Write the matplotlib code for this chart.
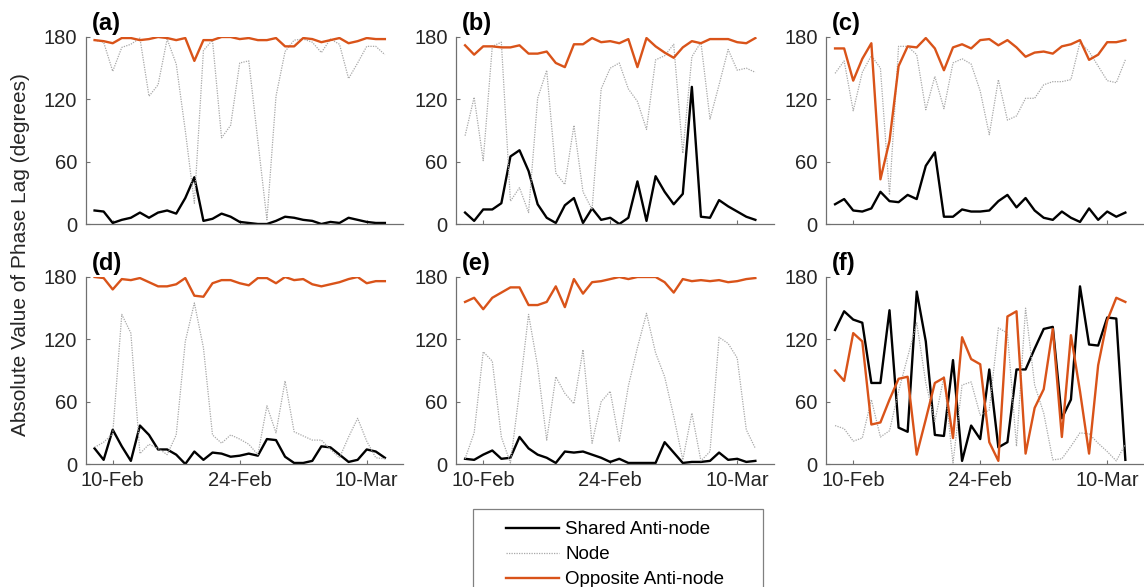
import datetime as dt
import matplotlib
matplotlib.use("Agg")
import matplotlib.pyplot as plt
import matplotlib.dates as mdates
from matplotlib.patches import Rectangle

plt.rcParams['font.family'] = ['Liberation Sans', 'DejaVu Sans']

# daily samples, 8 Feb - 12 Mar
dates = [dt.date(2019, 2, 8) + dt.timedelta(days=i) for i in range(33)]

# panel (a)
shared_a = [13, 12, 1, 4, 6, 11, 6, 11, 13, 10, 25, 45, 3, 5, 10, 7, 2, 1, 0, 0, 3, 7, 6, 4, 3, 0, 2, 1, 6, 4, 2, 1, 1]
node_a = [177, 175, 147, 170, 173, 179, 123, 134, 178, 154, 90, 20, 167, 177, 83, 95, 155, 157, 80, 4, 123, 166, 177, 178, 175, 165, 178, 173, 140, 155, 171, 171, 163]
opp_a = [177, 176, 174, 179, 179, 177, 178, 180, 179, 177, 179, 157, 177, 177, 180, 180, 178, 179, 177, 177, 179, 171, 171, 179, 178, 175, 177, 179, 174, 176, 179, 178, 178]

# panel (b)
shared_b = [11, 3, 14, 14, 20, 65, 71, 51, 19, 6, 1, 18, 25, 1, 15, 4, 6, 0, 6, 41, 3, 46, 31, 19, 29, 132, 7, 6, 23, 17, 12, 7, 4]
node_b = [85, 122, 61, 171, 175, 22, 35, 11, 121, 148, 49, 38, 95, 31, 14, 130, 150, 155, 130, 118, 91, 158, 162, 173, 68, 161, 175, 101, 134, 168, 148, 150, 146]
opp_b = [172, 163, 171, 171, 170, 170, 172, 164, 164, 166, 155, 151, 173, 173, 179, 175, 176, 174, 178, 151, 179, 171, 165, 160, 170, 176, 174, 178, 178, 178, 175, 174, 179]

# panel (c)
shared_c = [19, 24, 13, 12, 15, 31, 22, 21, 28, 24, 56, 69, 7, 7, 14, 12, 12, 13, 22, 28, 16, 25, 13, 6, 4, 12, 6, 2, 15, 4, 12, 7, 11]
node_c = [145, 157, 109, 146, 162, 150, 28, 171, 171, 163, 110, 142, 111, 155, 159, 154, 128, 86, 139, 100, 104, 121, 121, 134, 137, 137, 139, 175, 166, 152, 138, 136, 158]
opp_c = [169, 169, 138, 159, 174, 43, 80, 152, 171, 170, 179, 169, 148, 170, 173, 169, 177, 178, 172, 177, 170, 161, 165, 166, 164, 171, 173, 177, 158, 163, 175, 175, 177]

# panel (d)
shared_d = [15, 4, 33, 17, 3, 37, 28, 14, 14, 9, 0, 12, 4, 11, 10, 7, 8, 10, 8, 24, 23, 7, 1, 1, 3, 17, 16, 9, 2, 4, 14, 12, 6]
node_d = [16, 21, 29, 144, 126, 10, 19, 15, 9, 28, 118, 155, 112, 28, 20, 28, 24, 19, 9, 56, 30, 80, 31, 27, 23, 23, 14, 6, 26, 44, 22, 6, 5]
opp_d = [180, 179, 168, 178, 177, 179, 175, 171, 171, 173, 179, 162, 161, 174, 177, 177, 174, 172, 179, 179, 174, 180, 177, 178, 173, 171, 173, 175, 178, 180, 174, 176, 176]

# panel (e)
shared_e = [5, 4, 9, 13, 5, 6, 26, 15, 9, 6, 1, 12, 11, 12, 9, 6, 2, 5, 1, 1, 1, 1, 21, 11, 1, 2, 2, 3, 11, 4, 5, 2, 3]
node_e = [5, 30, 108, 99, 26, 1, 70, 144, 94, 23, 84, 68, 58, 110, 20, 60, 70, 22, 75, 112, 145, 107, 84, 46, 4, 49, 3, 12, 122, 116, 102, 33, 15]
opp_e = [156, 160, 149, 160, 165, 170, 170, 153, 153, 156, 171, 151, 178, 164, 175, 176, 178, 180, 178, 180, 180, 180, 175, 165, 178, 176, 177, 176, 177, 175, 176, 178, 179]

# panel (f)
shared_f = [129, 147, 139, 136, 78, 78, 148, 35, 31, 166, 118, 28, 27, 100, 3, 37, 24, 91, 16, 21, 91, 91, 111, 130, 132, 44, 62, 171, 115, 114, 141, 140, 4]
node_f = [37, 34, 22, 25, 62, 26, 32, 70, 103, 136, 78, 41, 84, 1, 76, 79, 47, 52, 131, 126, 17, 150, 76, 49, 4, 5, 17, 30, 29, 20, 12, 3, 19]
opp_f = [90, 80, 126, 118, 38, 40, 62, 82, 84, 9, 43, 78, 83, 25, 122, 101, 96, 21, 3, 142, 147, 10, 54, 72, 130, 26, 124, 70, 10, 95, 138, 160, 156]

panels = [("(a)", shared_a, node_a, opp_a), ("(b)", shared_b, node_b, opp_b),
          ("(c)", shared_c, node_c, opp_c), ("(d)", shared_d, node_d, opp_d),
          ("(e)", shared_e, node_e, opp_e), ("(f)", shared_f, node_f, opp_f)]

series_names = ["Shared Anti-node", "Node", "Opposite Anti-node"]
orange = "#D95319"
axis_col = "#707070"

fig = plt.figure(figsize=(11.44, 5.87), dpi=100)

W, H = 1144, 587
lefts = [85.5, 456, 826]
tops = [37, 277]
aw, ah = 317.5, 187

for k, (lab, sh, nd, op) in enumerate(panels):
    r, c = divmod(k, 3)
    ax = fig.add_axes([lefts[c] / W, 1 - (tops[r] + ah) / H, aw / W, ah / H])
    l1, = ax.plot(dates, sh, color="black", lw=1.7)
    l2, = ax.plot(dates, nd, color="#a8a8a8", lw=0.9, ls=(0, (1, 1)))
    l3, = ax.plot(dates, op, color=orange, lw=1.7)
    ax.set_ylim(0, 180)
    ax.set_yticks([0, 60, 120, 180])
    ax.set_xlim(dt.date(2019, 2, 7), dt.date(2019, 3, 14))
    ax.set_xticks([dt.date(2019, 2, 10), dt.date(2019, 2, 24), dt.date(2019, 3, 10)])
    ax.xaxis.set_major_formatter(mdates.DateFormatter("%d-%b"))
    if r == 0:
        ax.set_xticklabels([])
    for s in ["top", "right"]:
        ax.spines[s].set_visible(False)
    for s in ["left", "bottom"]:
        ax.spines[s].set_color(axis_col)
        ax.spines[s].set_linewidth(0.9)
    ax.tick_params(direction="in", length=3, color=axis_col, labelsize=14.5,
                   labelcolor="#262626")
    ax.tick_params(axis="y", pad=6)
    ax.tick_params(axis="x", pad=5)
    ax.text(0.02, 1.01, lab, transform=ax.transAxes, fontsize=17,
            fontweight="bold", va="bottom", ha="left")
    ax.patch.set_visible(False)
    handles = [l1, l2, l3]

fig.text(21 / W, 1 - 255 / H, "Absolute Value of Phase Lag (degrees)",
         rotation=90, ha="center", va="center", fontsize=15, color="#262626")

# legend box (runs off the bottom edge like the original)
fig.patches.append(Rectangle((473 / W, 1 - 600 / H), 290 / W, 91 / H,
                             transform=fig.transFigure, fill=False,
                             edgecolor="#808080", lw=0.9))
fig.legend(handles, series_names, loc="upper left",
           bbox_to_anchor=(506 / W, 1 - 521 / H), frameon=False,
           fontsize=13.5, handlelength=2.85, handletextpad=0.32,
           labelspacing=0.42, borderpad=0, borderaxespad=0)

fig.savefig("out.png", dpi=100)
